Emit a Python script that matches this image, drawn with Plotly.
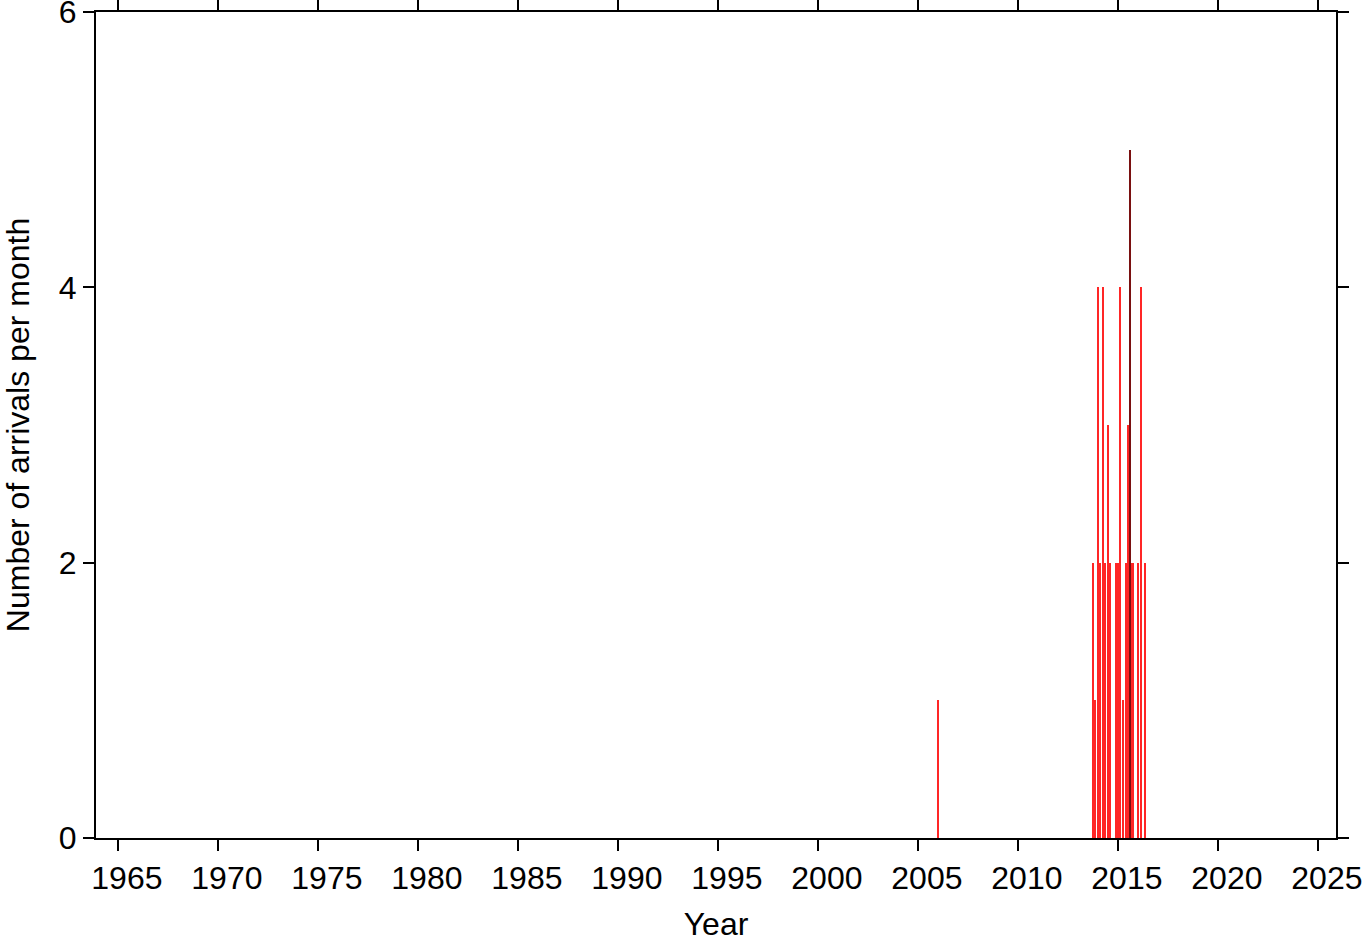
import plotly.graph_objects as go

# Monthly arrival counts (month label -> count)
months = ["2006-01", "2013-10", "2013-11", "2014-01", "2014-02", "2014-04", "2014-05",
          "2014-07", "2014-08", "2014-12", "2015-01", "2015-02", "2015-04",
          "2015-06", "2015-07", "2015-09", "2015-10", "2016-01", "2016-03", "2016-05"]
counts = [1, 2, 1, 4, 2, 4, 2, 3, 2, 2, 2, 4, 1, 2, 3, 2, 2, 2, 4, 2]

peak_month = ["2015-08"]
peak_count = [5]

x_tick_years = list(range(1965, 2030, 5))
y_ticks = [0, 2, 4, 6]


def to_decimal_year(m):
    y, mo = m.split("-")
    return int(y) + (int(mo) - 1) / 12.0


fig = go.Figure()
fig.add_trace(go.Bar(
    x=[to_decimal_year(m) for m in months], y=counts,
    width=0.1, marker=dict(color="#ff2626", line=dict(width=0)),
    showlegend=False))
fig.add_trace(go.Bar(
    x=[to_decimal_year(m) for m in peak_month], y=peak_count,
    width=0.035, marker=dict(color="#7a1010", line=dict(width=0)),
    showlegend=False))

font = "Liberation Sans, Arial, Helvetica, sans-serif"
# the reference's year labels sit a little right of their ticks
nb = "\u00a0\u00a0"
fig.update_layout(
    width=1363, height=942,
    margin=dict(l=96, r=27, t=12, b=104, autoexpand=False),
    plot_bgcolor="white", paper_bgcolor="white",
    barmode="overlay", bargap=0,
    font=dict(family=font, size=32, color="black"),
    xaxis=dict(
        range=[1963.9, 2025.9], tickvals=x_tick_years,
        ticktext=[nb + str(v) for v in x_tick_years],
        showgrid=False, zeroline=False, automargin=False,
        showline=True, linecolor="black", linewidth=2, mirror="ticks",
        ticks="outside", ticklen=11, tickwidth=1.5, tickcolor="black",
        tickfont=dict(size=32), ticklabeloverflow="allow",
        title=dict(text="Year", font=dict(size=32), standoff=29),
    ),
    yaxis=dict(
        range=[0, 6], tickvals=y_ticks,
        showgrid=False, zeroline=False, automargin=False,
        showline=True, linecolor="black", linewidth=2, mirror="ticks",
        ticks="outside", ticklen=11, tickwidth=1.5, tickcolor="black",
        tickfont=dict(size=32), ticklabeloverflow="allow",
        title=dict(text="Number of arrivals per month", font=dict(size=32), standoff=37),
    ),
)

fig.write_html("out.html", config={"displayModeBar": False},
               post_script="document.body.style.margin='0';")
